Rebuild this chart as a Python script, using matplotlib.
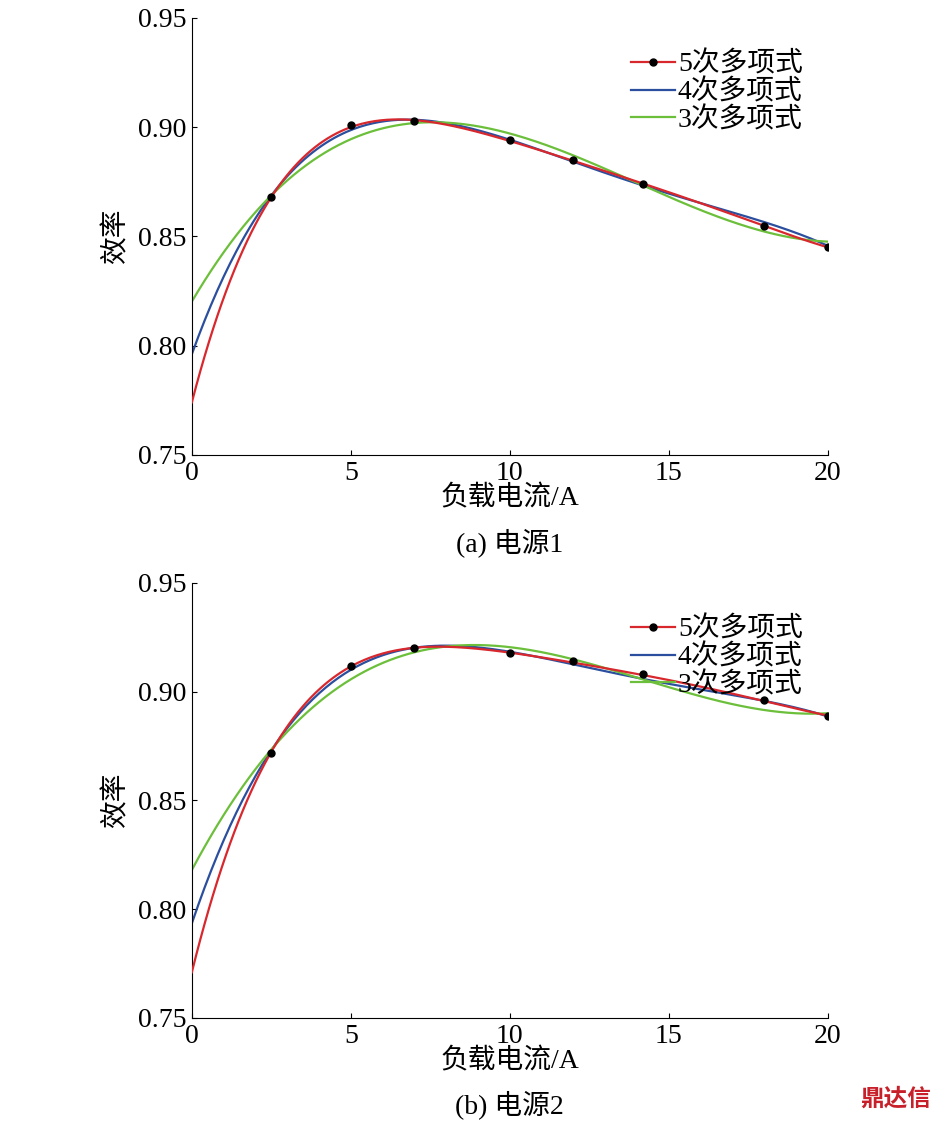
import numpy as np
import matplotlib
matplotlib.use("Agg")
import matplotlib.pyplot as plt

plt.rcParams['font.family'] = ['Liberation Serif', 'Noto Sans CJK SC']
plt.rcParams['font.size'] = 20

mk_x = [2.5, 5, 7, 10, 12, 14.2, 18, 20]
mk_a = [0.868, 0.901, 0.903, 0.894, 0.885, 0.874, 0.855, 0.845]
mk_b = [0.872, 0.912, 0.920, 0.918, 0.914, 0.908, 0.896, 0.889]

cx = [0, 1, 2, 3, 4, 5, 6, 7, 8, 10, 12, 14, 16, 18, 20]
a5 = [0.774, 0.822, 0.856, 0.877, 0.892, 0.901, 0.904, 0.903, 0.900, 0.894, 0.885, 0.875, 0.865, 0.855, 0.845]
a4 = [0.796, 0.832, 0.858, 0.877, 0.891, 0.899, 0.903, 0.904, 0.901, 0.893, 0.885, 0.875, 0.865, 0.856, 0.846]
a3 = [0.822, 0.842, 0.860, 0.874, 0.886, 0.895, 0.901, 0.903, 0.902, 0.897, 0.887, 0.874, 0.862, 0.852, 0.848]
b5 = [0.771, 0.822, 0.858, 0.884, 0.901, 0.912, 0.918, 0.920, 0.920, 0.918, 0.914, 0.908, 0.902, 0.896, 0.889]
b4 = [0.793, 0.832, 0.862, 0.883, 0.899, 0.910, 0.917, 0.920, 0.921, 0.918, 0.913, 0.907, 0.901, 0.895, 0.889]
b3 = [0.820, 0.843, 0.863, 0.880, 0.894, 0.906, 0.914, 0.919, 0.922, 0.921, 0.915, 0.906, 0.897, 0.891, 0.891]

labels = ['5次多项式', '4次多项式', '3次多项式']
colors = ['#d8282e', '#2b4f9e', '#6cbf3a']

fig = plt.figure(figsize=(9.45, 11.22), dpi=100)
axes = [fig.add_axes([0.203, 0.5945, 0.673, 0.3895]),
        fig.add_axes([0.203, 0.0927, 0.673, 0.3877])]
sets = [(a5, a4, a3, mk_a, '(a) 电源1'), (b5, b4, b3, mk_b, '(b) 电源2')]
xs = np.linspace(0, 20, 300)
for ax, (c5, c4, c3, mk, cap) in zip(axes, sets):
    for deg, c, col, lab in zip([5, 4, 3], [c5, c4, c3], colors, labels):
        p = np.polyfit(cx, c, deg)
        ys = np.polyval(p, xs)
        if deg == 5:
            ax.plot(xs, ys, color=col, lw=1.6, zorder=3)
            ax.plot(mk_x, mk, 'o', color='black', ms=5, zorder=4)
            ax.plot([], [], '-o', color=col, mfc='black', mec='black', ms=5, lw=1.6, label=lab)
        else:
            ax.plot(xs, ys, color=col, lw=1.6, label=lab, zorder=2)
    ax.set_xlim(0, 20)
    ax.set_ylim(0.75, 0.95)
    ax.set_xticks([0, 5, 10, 15, 20])
    ax.set_yticks([0.75, 0.80, 0.85, 0.90, 0.95])
    ax.set_yticklabels(['0.75', '0.80', '0.85', '0.90', '0.95'])
    ax.spines['top'].set_visible(False)
    ax.spines['right'].set_visible(False)
    ax.tick_params(direction='in', labelsize=20, pad=4)
    ax.set_ylabel('效率', fontsize=20, labelpad=6)
    ax.set_xlabel('负载电流/A', fontsize=20, labelpad=0)
    ax.legend(loc='upper right', frameon=False, fontsize=20, handlelength=1.6,
              handletextpad=0.1, labelspacing=0.05, borderaxespad=0.5,
              bbox_to_anchor=(1.0, 0.98))
    ax.text(0.5, -0.2, cap, transform=ax.transAxes, ha='center', va='center', fontsize=20)

fig.text(0.985, 0.01, '鼎达信', color='#c8202a', ha='right', va='bottom', fontsize=17, fontweight='bold')
fig.savefig('out.png', dpi=100)
